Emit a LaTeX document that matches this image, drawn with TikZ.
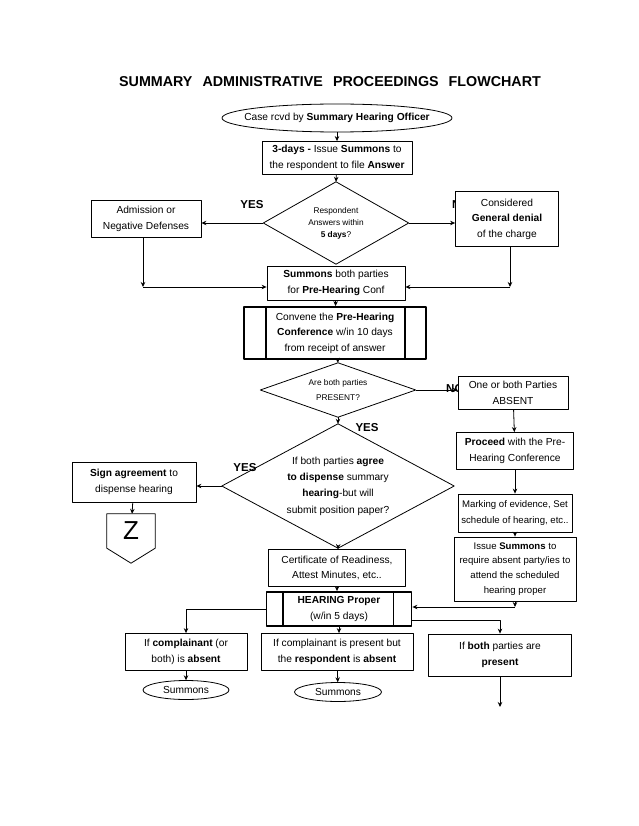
\documentclass[tikz,border=0pt]{standalone}
\usepackage{fontspec}
\setmainfont{Liberation Sans}
\usetikzlibrary{arrows.meta,positioning,shapes.geometric}

\begin{document}
\begin{tikzpicture}[x=1pt, y=-1pt, >={Stealth[length=5pt,width=4.5pt]}, line join=round,
    every node/.style={font=\fontsize{10.2}{15.5}\selectfont, align=center},
    box/.style={draw, fill=white, line width=0.8pt, inner sep=0pt},
    pbox/.style={box, line width=1.8pt},
    term/.style={inner sep=0pt},
    dec/.style={inner sep=0pt},
    small/.style={font=\fontsize{8.3}{12}\selectfont},
    narrow/.style={font=\fontsize{9.6}{15.5}\selectfont},
    lbl/.style={font=\fontsize{11.5}{12}\selectfont\bfseries, inner sep=0pt},
    sz/.style 2 args={minimum width=#1, minimum height=#2}]
  \fill[white] (0,0) rectangle (638,826);
  \useasboundingbox (0,0) rectangle (638,826);

  \node (title) at (330,82) {\fontsize{14.3}{16}\selectfont\bfseries SUMMARY\hspace{10pt}ADMINISTRATIVE\hspace{10pt}PROCEEDINGS\hspace{10pt}FLOWCHART};

  % top part
  \node[term, sz={230}{28}] (start) at (337,118) {Case rcvd by \textbf{Summary Hearing Officer}};
  \node[box, sz={150}{33}] (issue3) at (337,158) {\textbf{3-days -} Issue \textbf{Summons} to\\the respondent to file \textbf{Answer}};
  \node[dec, small, sz={145}{82}] (ans) at (336,223) {Respondent\\Answers within\\\textbf{5 days}?};
  \node[lbl] (yes1) at (252,205) {YES};
  \node[lbl, anchor=west] (no1) at (452,205) {NO};
  \node[box, sz={110}{37}] (adm) at (146,219) {Admission or\\Negative Defenses};
  \node[box, sz={103}{55}] (gen) at (507,219) {Considered\\\textbf{General denial}\\of the charge};
  \node[box, sz={138}{34}] (both) at (336,283) {\textbf{Summons} both parties\\for \textbf{Pre-Hearing} Conf};
  \coordinate (jl) at (143,287);
  \coordinate (jr) at (510,287);

  % pre-hearing
  \node[pbox, sz={182}{52}] (conv) at (335,333) {Convene the \textbf{Pre-Hearing}\\\textbf{Conference} w/in 10 days\\from receipt of answer};
  \node[dec, font=\fontsize{8.3}{14.5}\selectfont, sz={155}{54}] (pres) at (338,390) {Are both parties\\PRESENT?};
  \node[lbl, anchor=west] (no2) at (446,389) {NO};
  \node[box, sz={110}{33}] (absent) at (513,393) {One or both Parties\\ABSENT};
  \node[lbl] (yes2) at (367,428) {YES};
  \node[lbl] (yes3) at (245,468) {YES};
  \node[dec, font=\fontsize{10.2}{16.3}\selectfont, sz={232}{124}] (agree) at (338,486) {If both parties \textbf{agree}\\\textbf{to dispense} summary\\\textbf{hearing}-but will\\submit position paper?};
  \node[box, sz={124}{40}] (sign) at (134,482) {\textbf{Sign agreement} to\\dispense hearing};
  \node[dec, sz={48}{34}] (zcon) at (131,531) {\fontsize{26}{26}\selectfont Z};
  \node[box, sz={137}{37}] (cert) at (337,568) {Certificate of Readiness,\\Attest Minutes, etc..};

  % absent party
  \node[box, sz={117}{37}] (proc) at (515,451) {\textbf{Proceed} with the Pre-\\Hearing Conference};
  \node[box, narrow, sz={114}{38}] (mark) at (515,513) {Marking of evidence, Set\\schedule of hearing, etc..};
  \node[box, font=\fontsize{9.6}{14.8}\selectfont, sz={122}{64}] (summ) at (515,569) {Issue \textbf{Summons} to\\require absent party/ies to\\attend the scheduled\\hearing proper};
  \coordinate (ji) at (515,607);

  % hearing
  \node[pbox, sz={145}{34}] (hear) at (339,609) {\textbf{HEARING Proper}\\(w/in 5 days)};
  \node[box, sz={122}{37}] (comp) at (186,652) {If \textbf{complainant} (or\\both) is \textbf{absent}};
  \node[box, sz={152}{37}] (resp) at (337,652) {If complainant is present but\\the \textbf{respondent} is \textbf{absent}};
  \node[box, sz={143}{42}] (all) at (500,655) {If \textbf{both} parties are\\\textbf{present}};
  \node[term, sz={86}{19}] (sum1) at (186,690) {Summons};
  \node[term, sz={87}{19}] (sum2) at (338,692) {Summons};
  \coordinate (je) at (500,707);

  % shapes
  \draw[line width=0.8pt] (start) ellipse [x radius=115, y radius=14];
  \draw[line width=0.8pt] (sum1) ellipse [x radius=43, y radius=9.5];
  \draw[line width=0.8pt] (sum2) ellipse [x radius=43.5, y radius=9.5];
  \foreach \d in {ans,pres,agree}
    \draw[line width=0.8pt] (\d.north) -- (\d.east) -- (\d.south) -- (\d.west) -- cycle;
  \draw[line width=0.8pt] (zcon.north west) -- (zcon.north east) -- (zcon.south east)
    -- ([yshift=-15pt]zcon.south) -- (zcon.south west) -- cycle;
  \draw[line width=1.8pt] ([xshift=23pt]conv.north west) -- ([xshift=23pt]conv.south west)
    ([xshift=-22pt]conv.north east) -- ([xshift=-22pt]conv.south east);
  \draw[line width=1.8pt] ([xshift=17pt]hear.north west) -- ([xshift=17pt]hear.south west)
    ([xshift=-19pt]hear.north east) -- ([xshift=-19pt]hear.south east);

  % arrows
  \begin{scope}[line width=0.8pt]
    \draw[->] (start) -- (issue3);
    \draw[->] (issue3) -- (ans.north);
    \draw[->] (ans.west) -- (ans.west -| adm.east);
    \draw[->] (ans.east) -- (ans.east -| gen.west);
    \draw[->] (adm.south -| jl) -- (jl);
    \draw[->] (jl) -- (jl -| both.west);
    \draw[->] (gen.south -| jr) -- (jr);
    \draw[->] (jr) -- (jr -| both.east);
    \draw[->] (both) -- (conv);
    \draw[->] (conv) -- (pres.north);
    \draw[->] (pres.east) -- (pres.east -| absent.west);
    \draw[->] (pres.south) -- (agree.north);
    \draw[->] (agree.west) -- (agree.west -| sign.east);
    \draw[->] (sign) -- (zcon);
    \draw[->] (agree.south) -- (cert);
    \draw[->] (cert) -- (cert |- hear.north);
    \draw[->] (absent) -- (proc);
    \draw[->] (proc) -- (mark);
    \draw[->] (mark) -- (summ);
    \draw[->] (summ) -- (ji);
    \draw[->] (ji) -- (ji -| hear.east);
    \draw[->] (hear.west) -| (comp);
    \draw[->] ([yshift=-11pt]hear.east) -| (all);
    \draw[->] (hear.south) -- (hear.south |- resp.north);
    \draw[->] (comp) -- (sum1);
    \draw[->] (resp) -- (sum2);
    \draw[->] (all) -- (je);
  \end{scope}
\end{tikzpicture}
\end{document}
